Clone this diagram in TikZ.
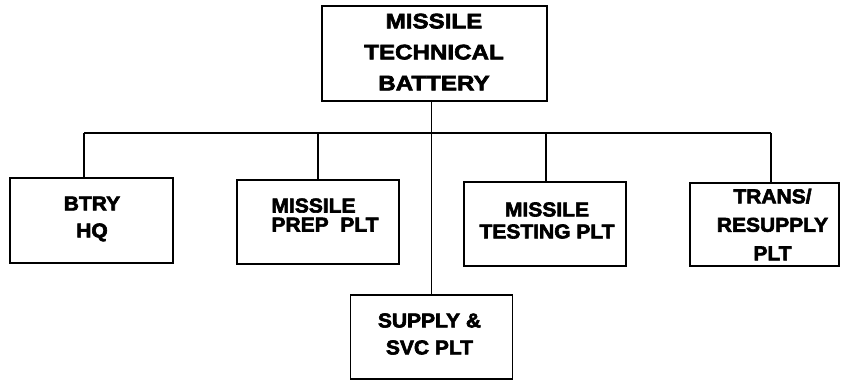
\documentclass[tikz,border=0pt]{standalone}
\usepackage{fontspec}
\setmainfont{Liberation Sans}
\newfontfamily\heavytop{Liberation Sans}[UprightFont=* Bold, UprightFeatures={FakeBold=3,FakeStretch=1.15}]
\newfontfamily\heavylow{Liberation Sans}[UprightFont=* Bold, UprightFeatures={FakeBold=3,FakeStretch=1.05}]
\begin{document}
\begin{tikzpicture}[x=1pt,y=-1pt,
  orgbox/.style={draw, line width=1.8pt, inner sep=0pt},
  lowtext/.style={inner sep=0pt, align=center, font=\heavylow\fontsize{20}{27}\selectfont},
  toptext/.style={inner sep=0pt, align=center, font=\heavytop\fontsize{21}{31}\selectfont},
  conn/.style={line width=1.7pt}]
\useasboundingbox (0,0) rectangle (841,381);
% boxes
\node[orgbox, minimum width=225pt, minimum height=95pt] (top) at (434.5,53.5) {};
\node[orgbox, minimum width=163pt, minimum height=85pt] (btry) at (91.5,220.5) {};
\node[orgbox, minimum width=162pt, minimum height=84pt] (prep) at (318,222) {};
\node[orgbox, minimum width=162pt, minimum height=84pt] (test) at (545,224) {};
\node[orgbox, minimum width=149pt, minimum height=83pt] (trans) at (764.5,224.5) {};
\node[orgbox, minimum width=162pt, minimum height=84pt] (supply) at (431.5,337) {};
% texts
\node[toptext] (top-t) at (434,52) {MISSILE\\TECHNICAL\\BATTERY};
\node[lowtext] (btry-t) at (92,219) {BTRY\\HQ};
\node[lowtext, align=left, font=\heavylow\fontsize{20}{19}\selectfont] (prep-t) at (325,215) {MISSILE\\PREP\ \ PLT};
\node[lowtext, font=\heavylow\fontsize{20}{22}\selectfont] (test-t) at (547,220.5) {MISSILE\\TESTING PLT};
\node[lowtext, font=\heavylow\fontsize{20}{28.5}\selectfont] (trans-t) at (772.5,224.5) {TRANS/\\RESUPPLY\\PLT};
\node[lowtext] (supply-t) at (429.5,334) {SUPPLY \&\\SVC PLT};
% connectors
\coordinate (busL) at (84,133);
\coordinate (busR) at (771,133);
\draw[conn] (busL) -- (busR);
\draw[conn] (top.south -| supply.north) -- (supply.north);
\draw[conn] (busL) -- (busL |- btry.north);
\draw[conn] (prep.north |- busL) -- (prep.north);
\draw[conn] ([xshift=1pt]test.north |- busL) -- ([xshift=1pt]test.north);
\draw[conn] (busR) -- (busR |- trans.north);
\end{tikzpicture}
\end{document}
